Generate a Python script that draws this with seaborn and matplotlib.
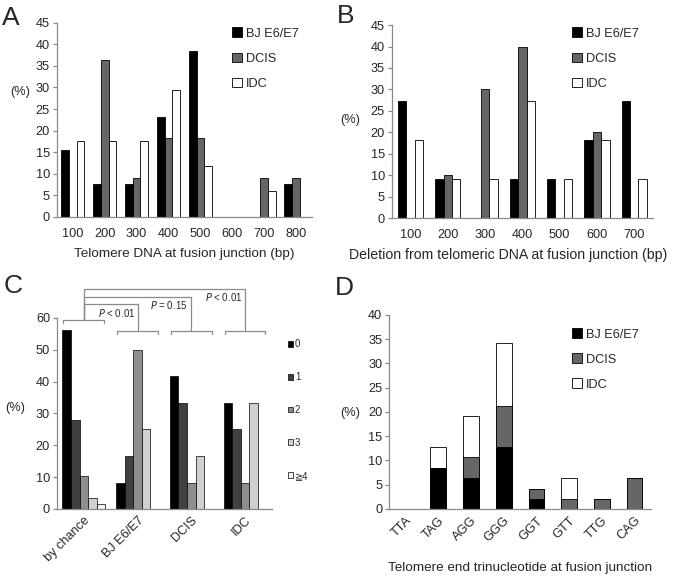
import numpy as np
import pandas as pd
import matplotlib as mpl
mpl.use('Agg')
import matplotlib.pyplot as plt
from matplotlib.patches import Patch
import seaborn as sns

sns.set_style('white')
plt.rcParams['font.family'] = ['Liberation Sans', 'DejaVu Sans']

# ---------------- data ----------------
groups = ['BJ E6/E7', 'DCIS', 'IDC']
group_colors = ['#000000', '#666666', '#ffffff']

# A: telomere DNA at fusion junction
a_bins = ['100', '200', '300', '400', '500', '600', '700', '800']
a_bj = [15.4, 7.7, 7.7, 23.1, 38.5, 0, 0, 7.7]
a_dcis = [0, 36.4, 9.1, 18.2, 18.2, 0, 9.1, 9.1]
a_idc = [17.6, 17.6, 17.6, 29.4, 11.8, 0, 5.9, 0]

# B: deletion from telomeric DNA
b_bins = ['100', '200', '300', '400', '500', '600', '700']
b_bj = [27.3, 9.1, 0, 9.1, 9.1, 18.2, 27.3]
b_dcis = [0, 10, 30, 40, 0, 20, 0]
b_idc = [18.2, 9.1, 9.1, 27.3, 9.1, 18.2, 9.1]

# C: number of microhomology nucleotides
c_cats = ['by chance', 'BJ E6/E7', 'DCIS', 'IDC']
c_levels = ['0', '1', '2', '3', '≧4']
c_colors = ['#000000', '#404040', '#8e8e8e', '#d0d0d0', '#f4f4f4']
c_vals = {
    '0': [56.3, 8.3, 41.7, 33.3],
    '1': [28.1, 16.7, 33.3, 25.0],
    '2': [10.5, 50.0, 8.3, 8.3],
    '3': [3.5, 25.0, 16.7, 33.3],
    '≧4': [1.5, 0, 0, 0],
}

# D: telomere end trinucleotide (stacked)
d_tri = ['TTA', 'TAG', 'AGG', 'GGG', 'GGT', 'GTT', 'TTG', 'CAG']
d_bj = [0, 8.5, 6.4, 12.8, 2.1, 0, 0, 0]
d_dcis = [0, 0, 4.3, 8.5, 2.1, 2.1, 2.1, 6.4]
d_idc = [0, 4.3, 8.5, 12.8, 0, 4.3, 0, 0]

axis_gray = '#8a8a8a'
tick_fs = 9.2
label_fs = 9.7


def long_df(cats, series, names, cat_col='bin'):
    rows = []
    for name, vals in zip(names, series):
        for c, v in zip(cats, vals):
            rows.append({cat_col: c, 'group': name, 'pct': v})
    df = pd.DataFrame(rows)
    df['pct'] = df['pct'].replace(0, np.nan)
    return df


def style_axes(ax, n, ymax, ystep, ylab_xy):
    ax.set_xlim(-0.5, n - 0.5)
    ax.set_ylim(0, ymax)
    ax.set_yticks(np.arange(0, ymax + 0.1, ystep))
    for s in ['top', 'right']:
        ax.spines[s].set_visible(False)
    for s in ['left', 'bottom']:
        ax.spines[s].set_color(axis_gray)
        ax.spines[s].set_linewidth(0.9)
    ax.set_xticks(np.arange(n))
    ax.set_xticks(np.arange(n + 1) - 0.5, minor=True)
    ax.tick_params(axis='x', which='major', length=0, labelsize=tick_fs, pad=8)
    ax.tick_params(axis='x', which='minor', length=3, color=axis_gray, width=0.9)
    ax.tick_params(axis='y', length=3, color=axis_gray, width=0.9, labelsize=tick_fs, pad=2,
                   left=True)
    ax.set_ylabel('(%)', rotation=0, fontsize=tick_fs, ha='center', va='center')
    ax.yaxis.set_label_coords(*ylab_xy)
    ax.set_xlabel('')


def group_legend(ax, x, y, spacing=1.0, fs=tick_fs, labels=groups, colors=group_colors):
    handles = [Patch(facecolor=c, edgecolor='black', linewidth=0.6) for c in colors]
    ax.legend(handles, labels, loc='upper left', bbox_to_anchor=(x, y),
              bbox_transform=ax.figure.transFigure, frameon=False, fontsize=fs,
              handlelength=0.8, handleheight=0.8, handletextpad=0.3,
              labelspacing=spacing, borderpad=0, borderaxespad=0)


fig = plt.figure(figsize=(6.78, 5.83), dpi=100)

# ---------------- A ----------------
axA = fig.add_axes([0.084, 0.628, 0.376, 0.333])
dfA = long_df(a_bins, [a_bj, a_dcis, a_idc], groups)
sns.barplot(data=dfA, x='bin', y='pct', hue='group', order=a_bins, hue_order=groups,
            palette=group_colors, width=0.72, edgecolor='black', linewidth=0.6,
            legend=False, ax=axA)
style_axes(axA, len(a_bins), 45, 5, (-0.145, 0.644))
axA.set_xlabel('Telomere DNA at fusion junction (bp)', fontsize=label_fs, labelpad=6)
group_legend(axA, 0.342, 0.953)

# ---------------- B ----------------
axB = fig.add_axes([0.578, 0.626, 0.385, 0.331])
dfB = long_df(b_bins, [b_bj, b_dcis, b_idc], groups)
sns.barplot(data=dfB, x='bin', y='pct', hue='group', order=b_bins, hue_order=groups,
            palette=group_colors, width=0.68, edgecolor='black', linewidth=0.6,
            legend=False, ax=axB)
style_axes(axB, len(b_bins), 45, 5, (-0.161, 0.508))
axB.set_xlabel('Deletion from telomeric DNA at fusion junction (bp)', fontsize=10.2, labelpad=6)
axB.xaxis.set_label_coords(0.445, -0.155)
group_legend(axB, 0.843, 0.953)

# ---------------- C ----------------
axC = fig.add_axes([0.084, 0.127, 0.317, 0.3276])
dfC = long_df(c_cats, [c_vals[k] for k in c_levels], c_levels, cat_col='cat')
sns.barplot(data=dfC, x='cat', y='pct', hue='group', order=c_cats, hue_order=c_levels,
            palette=c_colors, width=0.8, edgecolor='black', linewidth=0.5,
            legend=False, ax=axC)
style_axes(axC, len(c_cats), 60, 10, (-0.195, 0.53))
axC.tick_params(axis='x', which='major', pad=4)
plt.setp(axC.get_xticklabels(), rotation=45, ha='right', rotation_mode='anchor')

# significance brackets
bk = dict(color=axis_gray, lw=0.9, clip_on=False)
hw = 0.38
axC.plot([-hw, -hw, hw, hw], [58.4, 59.4, 59.4, 58.4], **bk)
for i in range(1, 4):
    axC.plot([i - hw, i - hw, i + hw, i + hw], [55.0, 56.0, 56.0, 55.0], **bk)
tops = {1: 64.4, 2: 66.6, 3: 69.2}
for i, yt in tops.items():
    axC.plot([0, 0, i, i], [59.4, yt, yt, 56.0], **bk)
axC.text(0.96, 61.6, '$\\it{P}$ < 0.01', ha='right', va='center', fontsize=7)
axC.text(1.93, 64.0, '$\\it{P}$ = 0.15', ha='right', va='center', fontsize=7)
axC.text(2.95, 66.5, '$\\it{P}$ < 0.01', ha='right', va='center', fontsize=7)

handles = [Patch(facecolor=c, edgecolor='black', linewidth=0.5) for c in c_colors]
axC.legend(handles, c_levels, loc='upper left', bbox_to_anchor=(0.425, 0.418),
           bbox_transform=fig.transFigure, frameon=False, fontsize=7,
           handlelength=0.55, handleheight=0.55, handletextpad=0.15,
           labelspacing=2.35, borderpad=0, borderaxespad=0)

# ---------------- D ----------------
axD = fig.add_axes([0.574, 0.127, 0.386, 0.333])
d_total = np.array(d_bj) + np.array(d_dcis) + np.array(d_idc)
d_mid = np.array(d_bj) + np.array(d_dcis)
layers = [(d_total, group_colors[2]), (d_mid, group_colors[1]), (np.array(d_bj), group_colors[0])]
for vals, col in layers:
    dfD = pd.DataFrame({'tri': d_tri, 'pct': vals}).replace(0, np.nan)
    sns.barplot(data=dfD, x='tri', y='pct', order=d_tri, color=col, width=0.48,
                edgecolor='black', linewidth=0.6, ax=axD)
style_axes(axD, len(d_tri), 40, 5, (-0.149, 0.495))
axD.tick_params(axis='x', which='major', pad=4)
plt.setp(axD.get_xticklabels(), rotation=45, ha='right', rotation_mode='anchor')
axD.set_xlabel('Telomere end trinucleotide at fusion junction', fontsize=label_fs, labelpad=13)
group_legend(axD, 0.843, 0.437)

# panel letters
for lab, x, y in [('A', 0.003, 0.957), ('B', 0.497, 0.960), ('C', 0.005, 0.497), ('D', 0.494, 0.494)]:
    fig.text(x, y, lab, fontsize=19, va='baseline', ha='left')

fig.savefig('out.png', dpi=100)
